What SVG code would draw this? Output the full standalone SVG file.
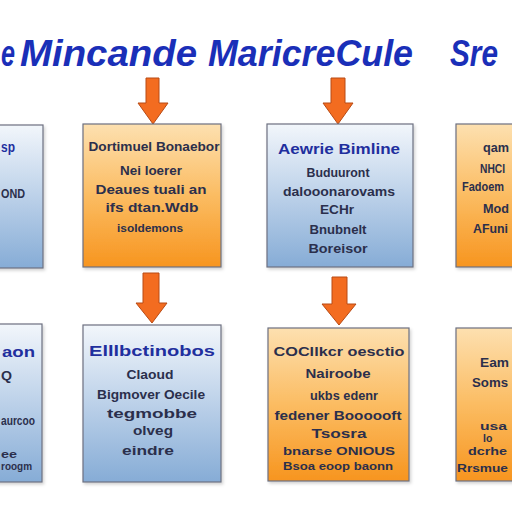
<svg xmlns="http://www.w3.org/2000/svg" width="512" height="512" viewBox="0 0 512 512">
<defs>
<linearGradient id="gO" x1="0" y1="0" x2="0" y2="1">
<stop offset="0" stop-color="#fde0b0"/>
<stop offset="0.5" stop-color="#fbbc62"/>
<stop offset="1" stop-color="#f7951f"/>
</linearGradient>
<linearGradient id="gB" x1="0" y1="0" x2="0" y2="1">
<stop offset="0" stop-color="#f2f6fb"/>
<stop offset="0.5" stop-color="#bcd1e9"/>
<stop offset="1" stop-color="#86acd6"/>
</linearGradient>
<filter id="sh" x="-10%" y="-10%" width="125%" height="125%">
<feDropShadow dx="1.5" dy="2" stdDeviation="1.5" flood-color="#000" flood-opacity="0.18"/>
</filter>
</defs>
<style>
.box{stroke:#6d7080;stroke-width:1.2;filter:url(#sh)}
.o{fill:url(#gO)}
.b{fill:url(#gB)}
.t{font-family:"Liberation Sans",Arial,sans-serif;font-weight:bold;fill:#2b2f4c;font-size:13px}
.h{font-family:"Liberation Sans",Arial,sans-serif;font-weight:bold;fill:#1f2f9e;font-size:15px}
.sm{font-size:10.5px}
.c{text-anchor:middle}
.ttl{font-family:"Liberation Sans",Arial,sans-serif;font-weight:bold;font-style:italic;fill:#1a2fb8;font-size:37px}
.arr{fill:#f36c20;stroke:#b84a14;stroke-width:1;stroke-linejoin:round}
</style>
<rect width="512" height="512" fill="#ffffff"/>
<g id="title">
<text class="ttl" x="1" y="66" textLength="14" lengthAdjust="spacingAndGlyphs">e</text>
<text class="ttl" x="20" y="66" textLength="177" lengthAdjust="spacingAndGlyphs">Mincande</text>
<text class="ttl" x="208" y="66" textLength="205" lengthAdjust="spacingAndGlyphs">MaricreCule</text>
<text class="ttl" x="450" y="66" font-size="33" textLength="48" lengthAdjust="spacingAndGlyphs">Sre</text>
</g>
<g id="connectors">
<polygon class="arr" points="146,78 159,78 159,103 168,103 153,124 138,103 146,103"/>
<polygon class="arr" points="331,78 345,78 345,103 353,103 338,124 323,103 331,103"/>
<polygon class="arr" points="143,273 159,273 159,303 167,303 152,323 136,303 143,303"/>
<polygon class="arr" points="332,277 347,277 347,304 356,304 339,325 322,304 332,304"/>
</g>
<g id="nodeA">
<rect class="box b" x="-10" y="125" width="53" height="143"/>
<text class="h" x="1" y="152" textLength="14" lengthAdjust="spacingAndGlyphs">sp</text>
<text class="t" x="1" y="198" textLength="24" lengthAdjust="spacingAndGlyphs">OND</text>
</g>
<g id="nodeB">
<rect class="box o" x="83" y="124" width="138" height="143"/>
<text class="t c" x="154" y="151" textLength="131" lengthAdjust="spacingAndGlyphs">Dortimuel Bonaebor</text>
<text class="t c" x="151" y="175" textLength="62" lengthAdjust="spacingAndGlyphs">Nei loerer</text>
<text class="t c" x="151" y="194" textLength="111" lengthAdjust="spacingAndGlyphs">Deaues tuali an</text>
<text class="t c" x="152" y="212" textLength="93" lengthAdjust="spacingAndGlyphs">ifs dtan.Wdb</text>
<text class="t sm c" x="150" y="232" textLength="66" lengthAdjust="spacingAndGlyphs">isoldemons</text>
</g>
<g id="nodeC">
<rect class="box b" x="267" y="124" width="146" height="143"/>
<text class="h c" x="339" y="154" textLength="122" lengthAdjust="spacingAndGlyphs">Aewrie Bimline</text>
<text class="t c" x="338" y="177" textLength="63" lengthAdjust="spacingAndGlyphs">Buduuront</text>
<text class="t c" x="339" y="196" textLength="112" lengthAdjust="spacingAndGlyphs">dalooonarovams</text>
<text class="t c" x="337" y="214" textLength="34" lengthAdjust="spacingAndGlyphs">ECHr</text>
<text class="t c" x="338" y="234" textLength="57" lengthAdjust="spacingAndGlyphs">Bnubnelt</text>
<text class="t c" x="338" y="253" textLength="59" lengthAdjust="spacingAndGlyphs">Boreisor</text>
</g>
<g id="nodeD">
<rect class="box o" x="456" y="124" width="70" height="143"/>
<text class="t" x="483" y="152" textLength="26" lengthAdjust="spacingAndGlyphs">qam</text>
<text class="t" x="480" y="173" font-size="11.5" textLength="25" lengthAdjust="spacingAndGlyphs">NHCI</text>
<text class="t" x="462" y="191" font-size="11.5" textLength="42" lengthAdjust="spacingAndGlyphs">Fadoem</text>
<text class="t" x="483" y="213" textLength="26" lengthAdjust="spacingAndGlyphs">Mod</text>
<text class="t" x="473" y="233" textLength="35" lengthAdjust="spacingAndGlyphs">AFuni</text>
</g>
<g id="nodeE">
<rect class="box b" x="-10" y="324" width="52" height="158"/>
<text class="h" x="2" y="357" textLength="33" lengthAdjust="spacingAndGlyphs">aon</text>
<text class="t" x="1" y="380" textLength="11" lengthAdjust="spacingAndGlyphs">Q</text>
<text class="t" x="1" y="425" textLength="34" lengthAdjust="spacingAndGlyphs">aurcoo</text>
<text class="t sm" x="1" y="458" textLength="16" lengthAdjust="spacingAndGlyphs">ee</text>
<text class="t sm" x="1" y="470" textLength="31" lengthAdjust="spacingAndGlyphs">roogm</text>
</g>
<g id="nodeF">
<rect class="box b" x="83" y="325" width="138" height="157"/>
<text class="h c" x="152" y="356" font-size="17" textLength="126" lengthAdjust="spacingAndGlyphs">Elllbctinobos</text>
<text class="t c" x="150" y="379" textLength="47" lengthAdjust="spacingAndGlyphs">Claoud</text>
<text class="t c" x="151" y="399" textLength="108" lengthAdjust="spacingAndGlyphs">Bigmover Oecile</text>
<text class="t c" x="152" y="418" textLength="90" lengthAdjust="spacingAndGlyphs">tegmobbe</text>
<text class="t c" x="153" y="435" textLength="40" lengthAdjust="spacingAndGlyphs">olveg</text>
<text class="t c" x="148" y="455" textLength="52" lengthAdjust="spacingAndGlyphs">eindre</text>
</g>
<g id="nodeG">
<rect class="box o" x="268" y="328" width="141" height="153"/>
<text class="t c" x="339" y="356" font-size="16" textLength="131" lengthAdjust="spacingAndGlyphs">COCllkcr oesctio</text>
<text class="t c" x="338" y="378" textLength="65" lengthAdjust="spacingAndGlyphs">Nairoobe</text>
<text class="t c" x="344" y="400" textLength="68" lengthAdjust="spacingAndGlyphs">ukbs edenr</text>
<text class="t c" x="338" y="420" textLength="127" lengthAdjust="spacingAndGlyphs">fedener Boooooft</text>
<text class="t c" x="339" y="438" textLength="55" lengthAdjust="spacingAndGlyphs">Tsosra</text>
<text class="t sm c" x="339" y="455" textLength="112" lengthAdjust="spacingAndGlyphs">bnarse ONIOUS</text>
<text class="t sm c" x="338" y="470" textLength="110" lengthAdjust="spacingAndGlyphs">Bsoa eoop baonn</text>
</g>
<g id="nodeH">
<rect class="box o" x="456" y="328" width="70" height="153"/>
<text class="t" x="480" y="367" font-size="14" textLength="29" lengthAdjust="spacingAndGlyphs">Eam</text>
<text class="t" x="472" y="387" font-size="15" textLength="36" lengthAdjust="spacingAndGlyphs">Soms</text>
<text class="t sm" x="480" y="430" textLength="27" lengthAdjust="spacingAndGlyphs">usa</text>
<text class="t sm" x="483" y="442">lo</text>
<text class="t sm" x="468" y="455" textLength="39" lengthAdjust="spacingAndGlyphs">dcrhe</text>
<text class="t sm" x="457" y="472" textLength="51" lengthAdjust="spacingAndGlyphs">Rrsmue</text>
</g>
</svg>
